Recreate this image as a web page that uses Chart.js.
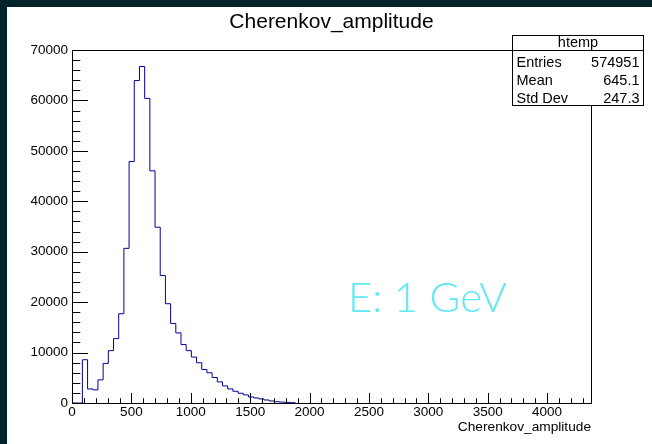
<!DOCTYPE html>
<html>
<head>
<meta charset="utf-8">
<script src="https://cdn.jsdelivr.net/npm/chart.js@4.4.0/dist/chart.umd.min.js"></script>
<style>
  html, body { margin: 0; padding: 0; background: #ffffff; }
  #wrap { width: 652px; height: 444px; position: relative; }
</style>
</head>
<body>
<div id="wrap"><canvas id="histChart" width="652" height="444"></canvas></div>
<script>
// htemp binning: 100 bins over [xMin, xMax], only the filled part is listed
const xMin = 0;
const xMax = 4370;
const binWidth = 43.7;
const binCounts = [0, 0, 8580, 2790, 2600, 4590, 7850, 10380, 12770, 17700,
  30670, 47900, 63940, 66730, 60410, 46040, 34860, 25280, 19690, 15770,
  13900, 11580, 10380, 9115, 7980, 6650, 5990, 5060, 4190, 3390,
  2790, 2330, 1930, 1600, 1200, 1000, 800, 600, 400, 250,
  180, 120, 60];

const xTickValues = [0, 500, 1000, 1500, 2000, 2500, 3000, 3500, 4000];
const yTickValues = [0, 10000, 20000, 30000, 40000, 50000, 60000, 70000];

const statLabels = ['Entries', 'Mean', 'Std Dev'];
const statValues = ['574951', '645.1', '247.3'];

const FONT = '"Liberation Sans", Arial, Helvetica, sans-serif';

// step outline points: left edge of each bin, plus closing edge
const histPoints = binCounts.map((c, i) => ({ x: xMin + i * binWidth, y: c }));
histPoints.push({ x: xMin + binCounts.length * binWidth, y: 0 });

// ROOT-like frame, ticks, title, stats box
const rootStyle = {
    id: 'rootStyle',
    beforeDraw(chart) {
        const c = chart.ctx;
        c.save();
        c.fillStyle = '#ffffff';
        c.fillRect(0, 0, chart.width, chart.height);
        c.fillStyle = '#03232a';
        c.fillRect(0, 0, chart.width, 7);
        c.fillRect(0, 0, 7, chart.height);
        c.restore();
    },
    afterDatasetsDraw(chart) {
        const c = chart.ctx;
        const a = chart.chartArea;
        const x = chart.scales.x;
        const y = chart.scales.y;
        const L = Math.round(a.left) + 0.5, R = Math.round(a.right) + 0.5;
        const T = Math.round(a.top) + 0.5, B = Math.round(a.bottom) + 0.5;
        c.save();
        c.strokeStyle = '#000';
        c.lineWidth = 1;
        c.strokeRect(L, T, R - L, B - T);

        c.beginPath();
        // y ticks: major every 10000, minor every 2000
        const yLen = 0.03 * (a.right - a.left);
        for (let v = 0; v <= 70000; v += 2000) {
            const py = Math.round(y.getPixelForValue(v)) + 0.5;
            const len = v % 10000 === 0 ? yLen : yLen / 2;
            c.moveTo(L, py);
            c.lineTo(L + len, py);
        }
        // x ticks: major every 500, minor every 100
        const xLen = 0.03 * (a.bottom - a.top);
        for (let v = 0; v <= xMax; v += 100) {
            const px = Math.round(x.getPixelForValue(v)) + 0.5;
            const len = v % 500 === 0 ? xLen : xLen / 2;
            c.moveTo(px, B);
            c.lineTo(px, B - len);
        }
        c.stroke();
        c.restore();
    },
    afterDraw(chart) {
        const c = chart.ctx;
        const a = chart.chartArea;
        c.save();
        c.fillStyle = '#000';

        // title
        c.font = '21px ' + FONT;
        c.textAlign = 'center';
        c.textBaseline = 'middle';
        c.fillText('Cherenkov_amplitude', 331.5, 22);

        // x axis title
        c.font = '13.7px ' + FONT;
        c.textAlign = 'right';
        c.fillText('Cherenkov_amplitude', a.right, 427);

        // stats box
        const bx = 512.5, by = 35.5, bw = 131, bh = 70;
        c.fillStyle = '#fff';
        c.fillRect(bx, by, bw, bh);
        c.strokeStyle = '#000';
        c.lineWidth = 1;
        c.strokeRect(bx, by, bw, bh);
        c.beginPath();
        c.moveTo(bx, 50.5);
        c.lineTo(bx + bw, 50.5);
        c.stroke();
        c.fillStyle = '#000';
        c.font = '14.5px ' + FONT;
        c.textAlign = 'center';
        c.fillText('htemp', bx + bw / 2, 43);
        const rowY = [62.5, 80.5, 98.5];
        statLabels.forEach((lab, i) => {
            c.textAlign = 'left';
            c.fillText(lab, bx + 4, rowY[i]);
            c.textAlign = 'right';
            c.fillText(statValues[i], bx + bw - 4, rowY[i]);
        });

        // energy annotation
        c.fillStyle = '#62e8f2';
        c.font = '300 42px Lato, "Open Sans", sans-serif';
        c.textAlign = 'left';
        c.textBaseline = 'alphabetic';
        c.fillText('E: 1 GeV', 348, 312);
        c.restore();
    }
};

new Chart(document.getElementById('histChart'), {
    type: 'line',
    data: {
        datasets: [{
            label: 'Cherenkov_amplitude',
            data: histPoints,
            stepped: 'before',
            borderColor: '#000099',
            borderWidth: 1,
            pointRadius: 0,
            fill: false
        }]
    },
    options: {
        responsive: false,
        animation: false,
        devicePixelRatio: 1,
        layout: { padding: { left: 0, right: 61, top: 50, bottom: 0 } },
        plugins: {
            legend: { display: false },
            title: { display: false },
            tooltip: { enabled: false }
        },
        scales: {
            x: {
                type: 'linear',
                min: xMin,
                max: xMax,
                grid: { display: false, drawTicks: false },
                border: { display: false },
                afterBuildTicks: s => { s.ticks = xTickValues.map(v => ({ value: v })); },
                ticks: {
                    padding: 1,
                    maxRotation: 0,
                    autoSkip: false,
                    color: '#000',
                    font: { family: FONT, size: 13.5 },
                    callback: v => String(v)
                },
                afterFit: s => { s.height = 41; }
            },
            y: {
                type: 'linear',
                min: 0,
                max: 70000,
                grid: { display: false, drawTicks: false },
                border: { display: false },
                afterBuildTicks: s => { s.ticks = yTickValues.map(v => ({ value: v })); },
                ticks: {
                    padding: 4,
                    color: '#000',
                    font: { family: FONT, size: 13.5 },
                    callback: v => String(v)
                },
                afterFit: s => { s.width = 72; }
            }
        }
    },
    plugins: [rootStyle]
});
</script>
</body>
</html>
